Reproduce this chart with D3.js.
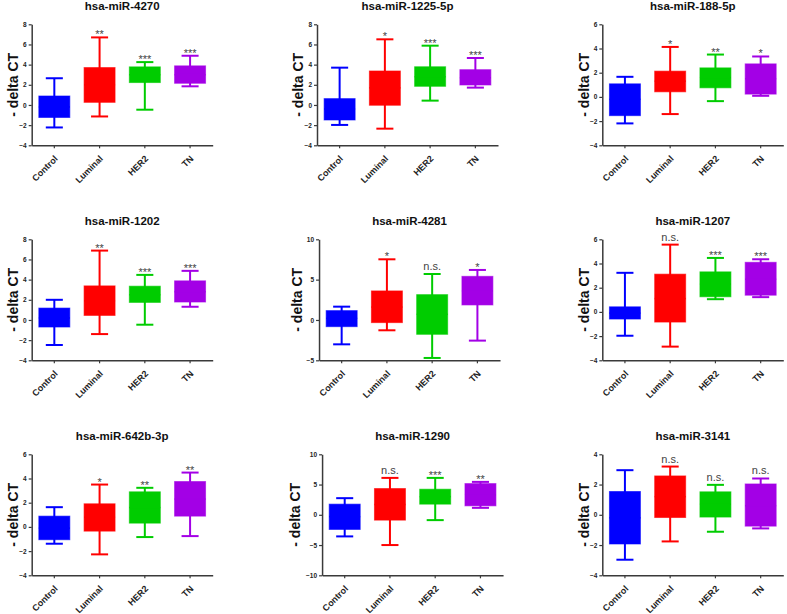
<!DOCTYPE html>
<html><head><meta charset="utf-8">
<script src="https://cdn.jsdelivr.net/npm/d3@7/dist/d3.min.js"></script>
<style>body{margin:0;background:#fff}svg{display:block}text{font-family:"Liberation Sans",Arial,sans-serif}</style>
</head><body>
<svg id="chart" width="787" height="614"></svg>
<script>
// ---------- data ----------
const groups = ["Control", "Luminal", "HER2", "TN"];
const titles = ["hsa-miR-4270", "hsa-miR-1225-5p", "hsa-miR-188-5p",
                "hsa-miR-1202", "hsa-miR-4281", "hsa-miR-1207",
                "hsa-miR-642b-3p", "hsa-miR-1290", "hsa-miR-3141"];
const yDomains = [[-4, 8], [-4, 8], [-4, 6],
                  [-4, 8], [-5, 10], [-4, 6],
                  [-4, 6], [-10, 10], [-4, 4]];
const yTickValues = [[-4, -2, 0, 2, 4, 6, 8], [-4, -2, 0, 2, 4, 6, 8], [-4, -2, 0, 2, 4, 6],
                     [-4, -2, 0, 2, 4, 6, 8], [-5, 0, 5, 10], [-4, -2, 0, 2, 4, 6],
                     [-4, -2, 0, 2, 4, 6], [-10, -5, 0, 5, 10], [-4, -2, 0, 2, 4]];
const whiskerLow = [[-2.23, -1.14, -0.47, 1.85], [-1.98, -2.35, 0.43, 1.72], [-2.19, -1.42, -0.35, 0.09],
                    [-2.48, -1.40, -0.47, 1.31], [-3.02, -1.28, -4.71, -2.56], [-1.97, -2.87, 1.05, 1.22],
                    [-1.39, -2.27, -0.84, -0.76], [-3.57, -5.0, -0.88, 1.15], [-2.97, -1.76, -1.12, -0.90]];
const q1 = [[-1.24, 0.26, 2.22, 2.15], [-1.49, -0.03, 1.85, 1.98], [-1.55, 0.42, 0.75, 0.23],
            [-0.70, 0.45, 1.74, 1.78], [-0.83, -0.33, -1.78, 1.86], [-0.59, -0.84, 1.25, 1.38],
            [-1.06, -0.35, 0.31, 0.89], [-2.42, -0.88, 1.76, 1.48], [-1.93, -0.18, -0.15, -0.75]];
const medians = [[-0.2, 2.0, 3.0, 3.0], [-0.4, 1.7, 2.8, 2.7], [-0.2, 1.3, 1.6, 1.5],
                 [0.2, 1.9, 2.5, 2.8], [0.2, 1.6, 0.7, 3.6], [-0.1, 1.1, 2.3, 2.7],
                 [-0.1, 0.8, 1.6, 2.3], [-0.3, 1.7, 3.0, 3.3], [-0.2, 1.2, 0.7, 0.6]];
const q3 = [[0.89, 3.71, 3.78, 3.88], [0.63, 3.37, 3.79, 3.50], [1.08, 2.13, 2.40, 2.73],
            [1.18, 3.38, 3.35, 3.88], [1.16, 3.60, 3.14, 5.41], [0.42, 3.12, 3.31, 4.10],
            [0.89, 1.91, 2.90, 3.75], [1.76, 4.34, 4.23, 5.16], [1.54, 2.57, 1.52, 2.04]];
const whiskerHigh = [[2.65, 6.70, 4.25, 4.88], [3.70, 6.51, 5.88, 4.66], [1.66, 4.13, 3.50, 3.34],
                     [2.00, 6.88, 4.47, 4.87], [1.65, 7.52, 5.70, 6.20], [3.23, 5.56, 4.46, 4.35],
                     [1.63, 3.50, 3.23, 4.49], [2.75, 6.10, 6.10, 5.44], [2.95, 3.19, 1.98, 2.40]];
const significance = [["", "**", "***", "***"], ["", "*", "***", "***"], ["", "*", "**", "*"],
                      ["", "**", "***", "***"], ["", "*", "n.s.", "*"], ["", "n.s.", "***", "***"],
                      ["", "*", "**", "**"], ["", "n.s.", "***", "**"], ["", "n.s.", "n.s.", "n.s."]];
const yLabel = "- delta CT";

// ---------- style / layout ----------
const colors = {Control: "#0000ff", Luminal: "#ff0000", HER2: "#00cc00", TN: "#a300e6"};
const colBase = [0, 285.3, 570.6];
const rowTop = [24.3, 239.3, 454.3];
const plotW = 181, plotH = 121;
const axisColor = "#3a3a3a";

const svg = d3.select("#chart");

function textWidth(str, font) {
  const t = svg.append("text").attr("style", "font:" + font).text(str);
  const w = t.node().getComputedTextLength();
  t.remove();
  return w;
}
const tickFont = "bold 6.5px 'Liberation Sans', Arial, sans-serif";
const refW = textWidth("-4", tickFont);

titles.forEach((title, p) => {
  const col = p % 3, row = Math.floor(p / 3);
  const maxW = d3.max(yTickValues[p], v => textWidth(String(v), tickFont));
  const extra = Math.max(0, maxW - refW);
  const left = colBase[col] + 31.7 + extra * 1.4;
  const top = rowTop[row];
  const g = svg.append("g").attr("transform", `translate(${left},${top})`);

  const x = d3.scaleBand().domain(groups).range([0, plotW]).paddingInner(0.315).paddingOuter(0.1575);
  const y = d3.scaleLinear().domain(yDomains[p]).range([plotH, 0]);
  const bw = x.bandwidth();
  const capW = bw * 0.55;

  groups.forEach((grp, i) => {
    const c = colors[grp];
    const cx = x(grp) + bw / 2;
    const bg = g.append("g");
    bg.append("line").attr("x1", cx).attr("x2", cx)
      .attr("y1", y(whiskerLow[p][i])).attr("y2", y(whiskerHigh[p][i]))
      .attr("stroke", c).attr("stroke-width", 2);
    [whiskerLow[p][i], whiskerHigh[p][i]].forEach(v => {
      bg.append("line").attr("x1", cx - capW / 2).attr("x2", cx + capW / 2)
        .attr("y1", y(v)).attr("y2", y(v)).attr("stroke", c).attr("stroke-width", 2);
    });
    bg.append("rect").attr("x", x(grp)).attr("width", bw)
      .attr("y", y(q3[p][i])).attr("height", y(q1[p][i]) - y(q3[p][i]))
      .attr("fill", c).attr("stroke", c).attr("stroke-width", 1).attr("stroke-opacity", 0.6);
    bg.append("line").attr("x1", x(grp)).attr("x2", x(grp) + bw)
      .attr("y1", y(medians[p][i])).attr("y2", y(medians[p][i]))
      .attr("stroke", c).attr("stroke-width", 1.5);
    const s = significance[p][i];
    if (s) {
      const isNS = s === "n.s.";
      g.append("text").attr("x", cx)
        .attr("y", y(whiskerHigh[p][i]) + (isNS ? -4 : 1))
        .attr("text-anchor", "middle")
        .attr("fill", "#444")
        .attr("font-size", 11)
        .text(s);
    }
  });

  const ya = g.append("g").call(d3.axisLeft(y).tickValues(yTickValues[p]).tickSize(3).tickSizeOuter(0).tickPadding(2));
  ya.select(".domain").attr("stroke", axisColor).attr("stroke-width", 1.5);
  ya.selectAll(".tick line").attr("stroke", axisColor).attr("stroke-width", 1.2);
  ya.selectAll(".tick text").attr("style", "font:" + tickFont).attr("fill", "#222");

  const xa = g.append("g").attr("transform", `translate(0,${plotH})`)
    .call(d3.axisBottom(x).tickSize(3).tickSizeOuter(0).tickPadding(2));
  xa.select(".domain").attr("stroke", axisColor).attr("stroke-width", 1.5);
  xa.selectAll(".tick line").attr("stroke", axisColor).attr("stroke-width", 1.2);
  xa.selectAll(".tick text")
    .attr("style", "font:bold 9px 'Liberation Sans', Arial, sans-serif")
    .attr("fill", "#222")
    .attr("text-anchor", "end")
    .attr("dy", null)
    .attr("y", 0)
    .attr("transform", "translate(4,14) rotate(-45)");

  g.append("text").attr("x", plotW / 2).attr("y", -14)
    .attr("text-anchor", "middle").attr("font-weight", "bold").attr("font-size", 11.5)
    .attr("fill", "#111").text(title);

  const lx = colBase[col] + 13 - extra * 0.8 - left;
  g.append("text").attr("transform", `translate(${lx},${plotH / 2}) rotate(-90)`)
    .attr("text-anchor", "middle").attr("dy", "0.36em")
    .attr("font-weight", "bold").attr("font-size", 14).attr("fill", "#111").text(yLabel);
});
</script>
</body></html>
